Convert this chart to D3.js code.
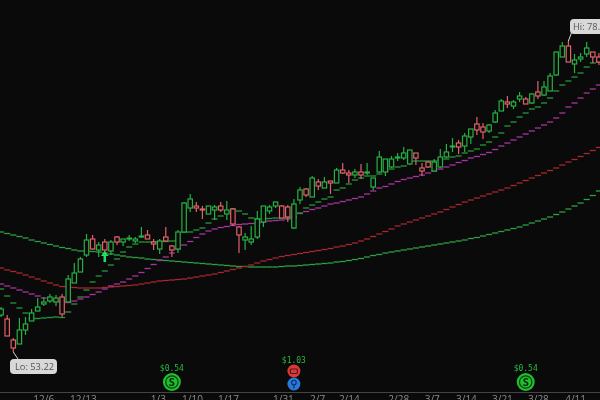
<!DOCTYPE html>
<html>
<head>
<meta charset="utf-8">
<title>Candles</title>
<script src="https://cdnjs.cloudflare.com/ajax/libs/d3/7.8.5/d3.min.js"></script>
<style>
    html, body { margin: 0; padding: 0; background: #0a0a0a; overflow: hidden; }
    svg { display: block; filter: blur(0.35px); }
    text { font-family: "Open Sans", sans-serif; }
    .up { stroke: #27b043; }
    .down { stroke: #e0626a; }
    .wick { stroke-width: 1.2; }
    .body { fill: #0a0a0a; stroke-width: 1.2; }
    .axis path { stroke: #444; }
    .axis text { fill: #8c8c8c; font-size: 10px; }
    .callout rect { fill: #d8d8d8; }
    .callout text { fill: #555; font-size: 9.3px; }
    .amount { fill: #2ab840; font-size: 8px; font-family: "DejaVu Sans Mono", monospace; text-anchor: middle; }
</style>
</head>
<body>
<script>
    var width = 600,
        height = 400;

    var opens = [56.18,55.86,54.18,53.86,54.98,55.70,56.50,57.06,57.30,57.22,57.62,57.22,58.74,59.62,60.98,62.26,61.38,62.02,61.30,62.42,
        62.02,62.26,62.10,62.42,62.58,62.02,61.46,62.42,61.70,61.46,62.82,64.74,64.90,64.66,64.26,64.58,64.90,64.26,64.66,63.22,
        62.18,62.02,62.42,63.62,64.50,64.90,64.90,64.82,63.14,65.38,66.26,65.62,66.82,66.34,66.90,66.74,67.78,67.54,67.38,67.62,
        67.54,66.42,67.62,67.62,68.02,68.74,68.74,68.26,69.14,67.94,68.42,67.70,68.02,68.82,69.62,69.94,69.70,70.42,71.46,71.22,
        70.90,71.62,72.50,73.22,72.90,73.46,73.46,73.14,74.02,73.78,74.10,75.38,76.82,77.70,76.26,76.66,77.06,77.22,76.82];
    var highs = [56.82,56.18,54.34,55.94,56.02,56.66,57.54,57.62,57.86,57.78,57.86,59.38,60.34,60.82,62.66,62.58,62.02,62.26,62.18,62.50,
        62.26,62.58,62.42,63.22,62.98,62.26,62.26,63.22,61.78,62.98,65.22,65.86,65.22,64.90,64.90,64.98,65.22,65.30,64.74,63.30,
        62.74,63.30,64.50,64.90,64.98,65.22,64.98,64.98,65.46,66.42,66.34,67.30,67.06,67.22,66.90,67.94,68.34,67.78,67.86,68.26,
        68.34,67.14,69.30,68.66,68.90,69.14,69.62,69.38,69.14,68.34,68.50,68.66,69.46,69.86,70.34,70.18,70.74,71.06,72.02,71.54,
        71.46,72.58,73.46,73.70,73.38,74.02,73.62,73.94,74.90,74.90,75.54,77.22,78.02,78.10,77.06,77.14,78.02,77.22,77.14];
    var lows = [56.02,54.50,53.22,53.86,54.58,55.70,56.50,56.90,57.14,56.90,56.02,57.22,58.74,59.62,60.82,61.38,60.82,61.14,60.98,61.78,
        61.70,62.10,61.94,62.34,62.26,61.38,61.06,62.10,60.82,61.14,62.82,64.42,64.42,63.86,64.26,63.78,64.42,63.78,63.30,61.14,
        61.38,61.78,62.26,63.22,64.26,64.74,63.94,63.62,63.06,65.06,65.62,65.62,66.18,66.34,65.86,66.74,67.46,66.74,67.14,67.06,
        67.38,66.18,67.54,67.30,67.94,68.50,68.58,68.18,68.18,67.30,67.94,67.70,67.94,68.74,69.22,69.06,69.22,69.86,70.58,70.26,
        70.74,71.54,72.50,72.74,72.66,73.22,73.06,73.06,73.46,73.70,74.10,75.30,76.82,76.42,75.54,76.42,76.82,76.34,76.18];
    var closes = [56.66,54.50,53.54,54.98,55.46,56.34,56.82,57.22,57.62,57.54,56.26,59.06,59.54,60.66,62.18,61.46,61.78,61.38,62.02,62.02,
        62.26,62.34,62.26,62.50,62.26,61.86,62.10,62.10,61.38,62.82,65.14,65.46,64.74,64.58,64.90,64.82,64.58,64.58,63.46,62.58,
        62.42,62.26,63.86,64.90,64.82,65.22,63.94,64.02,65.06,66.18,65.78,67.14,66.50,66.82,66.74,67.78,67.54,67.38,67.62,67.38,
        67.62,67.14,68.82,68.66,68.66,68.82,69.14,69.38,68.74,67.70,68.02,68.42,68.82,69.22,69.70,69.62,70.50,71.06,70.98,70.82,
        71.38,72.34,73.30,73.06,73.22,73.70,73.06,73.86,73.70,74.42,75.30,77.22,77.70,76.42,76.58,76.82,77.54,76.82,76.42];

    // step lines
    var fastAvg = [58.26,57.70,57.14,56.74,56.34,55.90,55.90,55.94,55.98,56.02,55.98,56.42,57.06,57.62,58.18,58.82,59.30,59.70,60.18,60.66,
        61.22,61.62,61.86,62.02,62.02,62.02,62.06,62.06,62.10,62.10,62.82,62.82,62.98,63.14,63.54,63.86,64.10,64.42,64.66,64.50,
        64.26,63.94,63.86,63.86,63.90,63.94,63.94,63.94,63.98,64.34,64.74,64.98,65.22,65.46,65.62,66.18,66.34,66.66,66.98,67.14,
        67.30,67.30,67.46,67.70,67.86,68.02,68.10,68.50,68.50,68.50,68.50,68.50,68.58,68.66,68.82,68.90,69.14,69.30,69.46,69.78,
        70.02,70.42,70.74,71.30,71.62,72.02,72.34,72.66,72.82,73.14,73.54,74.10,74.58,74.90,75.22,75.54,76.02,76.34,76.42];
    var midAvg = [58.66,58.50,58.34,58.18,58.02,57.86,57.70,57.54,57.38,57.30,57.22,57.18,57.30,57.46,57.62,57.82,58.02,58.26,58.50,58.66,
        58.82,59.06,59.30,59.58,59.90,60.22,60.54,60.82,61.14,61.46,61.78,62.06,62.38,62.66,62.90,63.06,63.18,63.26,63.34,63.42,
        63.46,63.50,63.54,63.62,63.70,63.74,63.78,63.86,64.06,64.30,64.46,64.62,64.74,64.90,65.06,65.14,65.26,65.38,65.50,65.62,
        65.86,66.10,66.34,66.46,66.66,66.86,67.02,67.14,67.26,67.38,67.54,67.70,67.86,68.02,68.18,68.38,68.54,68.74,68.86,69.02,
        69.18,69.42,69.70,69.94,70.18,70.42,70.66,70.90,71.14,71.38,71.62,71.94,72.34,72.82,73.14,73.54,73.94,74.26,74.58];
    var slowAvg = [59.94,59.78,59.66,59.54,59.38,59.22,59.06,58.90,58.74,58.58,58.46,58.42,58.38,58.34,58.34,58.34,58.34,58.38,58.42,58.46,
        58.50,58.54,58.58,58.66,58.74,58.82,58.90,58.94,58.98,59.02,59.06,59.14,59.22,59.30,59.38,59.46,59.58,59.70,59.82,59.94,
        60.06,60.18,60.34,60.50,60.62,60.74,60.86,60.94,61.02,61.10,61.18,61.26,61.34,61.42,61.50,61.62,61.70,61.82,61.94,62.10,
        62.26,62.46,62.66,62.86,63.06,63.30,63.46,63.62,63.78,63.94,64.10,64.26,64.42,64.62,64.82,65.02,65.22,65.38,65.54,65.70,
        65.86,66.02,66.18,66.34,66.54,66.74,66.94,67.14,67.34,67.54,67.74,67.94,68.18,68.42,68.62,68.86,69.10,69.34,69.58];
    var longAvg = [62.82,62.70,62.58,62.46,62.34,62.18,62.06,61.94,61.82,61.70,61.58,61.50,61.38,61.30,61.30,61.26,61.22,61.14,61.06,60.98,
        60.90,60.82,60.78,60.74,60.66,60.62,60.58,60.54,60.50,60.46,60.42,60.38,60.34,60.30,60.26,60.22,60.18,60.14,60.10,60.06,
        60.06,60.02,60.02,60.02,60.02,60.02,60.06,60.10,60.10,60.14,60.18,60.22,60.26,60.30,60.34,60.42,60.46,60.54,60.62,60.70,
        60.82,60.94,61.02,61.14,61.22,61.30,61.38,61.46,61.54,61.62,61.70,61.78,61.86,61.94,62.02,62.10,62.18,62.30,62.38,62.50,
        62.62,62.74,62.86,62.98,63.10,63.22,63.38,63.54,63.70,63.86,64.02,64.22,64.42,64.66,64.90,65.14,65.42,65.74,66.10];

    var tickBars = [6.9,13.4,25.7,31.3,37.2,46.2,51.8,57,65.1,70.6,76.2,82.1,88,94.1];
    var tickLabels = ["12/6","12/13","1/3","1/10","1/17","1/31","2/7","2/14","2/28","3/7","3/14","3/21","3/28","4/11"];

    var dividendBars = [28, 86];
    var dividendLabels = ["$0.54", "$0.54"];
    var earningsBars = [48];
    var earningsLabels = ["$1.03"];
    var arrowBars = [17];
    var lowBar = 2, highBar = 93;

    var x = d3.scaleLinear().domain([0, 98]).range([1.1, 598.9]);
    var y = d3.scaleLinear().domain([50, 80]).range([392.25, 17.25]);

    var svg = d3.select("body").append("svg")
        .attr("width", width)
        .attr("height", height);

    // each average point is one flat dash, one bar wide
    function drawSteps(values, color, strokeWidth) {
        svg.append("g").selectAll("line")
            .data(values)
            .enter().append("line")
            .attr("x1", function(d, i){ return x(i - 0.5); })
            .attr("x2", function(d, i){ return x(i + 0.5); })
            .attr("y1", function(d){ return y(d); })
            .attr("y2", function(d){ return y(d); })
            .attr("stroke", color)
            .attr("stroke-width", strokeWidth);
    }

    drawSteps(longAvg, "#2f9f45", 1.3);
    drawSteps(slowAvg, "#a8282f", 1.3);
    drawSteps(midAvg, "#a8359f", 1.3);
    drawSteps(fastAvg, "#22993a", 1.3);

    var bars = svg.append("g").selectAll("g")
        .data(d3.range(opens.length))
        .enter().append("g")
        .attr("class", function(i){ return closes[i] >= opens[i] ? "up" : "down"; });

    bars.append("line")
        .attr("class", "wick")
        .attr("x1", function(i){ return x(i); })
        .attr("x2", function(i){ return x(i); })
        .attr("y1", function(i){ return y(highs[i]); })
        .attr("y2", function(i){ return y(lows[i]); });

    bars.append("rect")
        .attr("class", "body")
        .attr("x", function(i){ return x(i) - 2.2; })
        .attr("width", 4.4)
        .attr("y", function(i){ return y(Math.max(opens[i], closes[i])); })
        .attr("height", function(i){ return Math.abs(opens[i] - closes[i]) * (y(0) - y(1)); });

    // buy arrow
    svg.selectAll("path.arrow")
        .data(arrowBars)
        .enter().append("path")
        .attr("class", "arrow")
        .attr("transform", function(d){ return "translate(" + x(d) + "," + y(lows[d]) + ")"; })
        .attr("d", "M0,-2 L4,3 L1.3,3 L1.3,9 L-1.3,9 L-1.3,3 L-4,3 Z")
        .attr("fill", "#1fe060");

    // hi / lo callouts
    var lowCall = svg.append("g").attr("class", "callout");
    lowCall.append("line")
        .attr("x1", x(lowBar)).attr("y1", y(lows[lowBar]))
        .attr("x2", x(lowBar) + 6).attr("y2", y(lows[lowBar]) + 9)
        .attr("stroke", "#d8d8d8");
    lowCall.append("rect")
        .attr("x", 10).attr("y", 359).attr("width", 47).attr("height", 15).attr("rx", 4);
    lowCall.append("text")
        .attr("x", 15).attr("y", 370)
        .text("Lo: " + lows[lowBar].toFixed(2));

    var highCall = svg.append("g").attr("class", "callout");
    highCall.append("line")
        .attr("x1", x(highBar)).attr("y1", y(highs[highBar]))
        .attr("x2", x(highBar) + 3).attr("y2", 33)
        .attr("stroke", "#d8d8d8");
    highCall.append("rect")
        .attr("x", 570).attr("y", 19).attr("width", 47).attr("height", 15).attr("rx", 4);
    highCall.append("text")
        .attr("x", 573).attr("y", 30)
        .text("Hi: " + highs[highBar].toFixed(2));

    // dividend markers
    var dividends = svg.append("g").selectAll("g")
        .data(dividendBars)
        .enter().append("g")
        .attr("transform", function(d){ return "translate(" + x(d) + ",382)"; });
    dividends.append("circle").attr("r", 9).attr("fill", "#1fc02e");
    dividends.append("circle").attr("r", 6.2).attr("fill", "none").attr("stroke", "#0c3a12").attr("stroke-width", 1.2);
    dividends.append("text")
        .attr("text-anchor", "middle").attr("y", 4)
        .style("font-size", "11px").style("font-weight", "700").attr("fill", "#08260c")
        .text("S");
    dividends.append("text")
        .attr("class", "amount").attr("y", -11)
        .text(function(d, i){ return dividendLabels[i]; });

    // earnings markers
    var earnings = svg.append("g").selectAll("g")
        .data(earningsBars)
        .enter().append("g")
        .attr("transform", function(d){ return "translate(" + x(d) + ",0)"; });
    earnings.append("text")
        .attr("class", "amount").attr("y", 363)
        .text(function(d, i){ return earningsLabels[i]; });
    earnings.append("circle").attr("cy", 371).attr("r", 6.5).attr("fill", "#d83a3c");
    earnings.append("rect")
        .attr("x", -3.5).attr("y", 369).attr("width", 7).attr("height", 4.5).attr("rx", 1)
        .attr("fill", "none").attr("stroke", "#5a1416").attr("stroke-width", 1.2);
    earnings.append("circle").attr("cy", 384).attr("r", 6.5).attr("fill", "#2a78dc");
    earnings.append("circle").attr("cy", 382.5).attr("r", 2.3)
        .attr("fill", "none").attr("stroke", "#0e2f5c").attr("stroke-width", 1.1);
    earnings.append("line")
        .attr("y1", 385).attr("y2", 388.5)
        .attr("stroke", "#0e2f5c").attr("stroke-width", 1.2);

    var xAxis = d3.axisBottom(x)
        .tickValues(tickBars)
        .tickFormat(function(d, i){ return tickLabels[i]; })
        .tickSize(0)
        .tickPadding(4);

    var axisG = svg.append("g")
        .attr("class", "axis")
        .attr("transform", "translate(0,392)")
        .call(xAxis);
    axisG.select(".domain").attr("d", "M0,0.5H" + width);
</script>
</body>
</html>
